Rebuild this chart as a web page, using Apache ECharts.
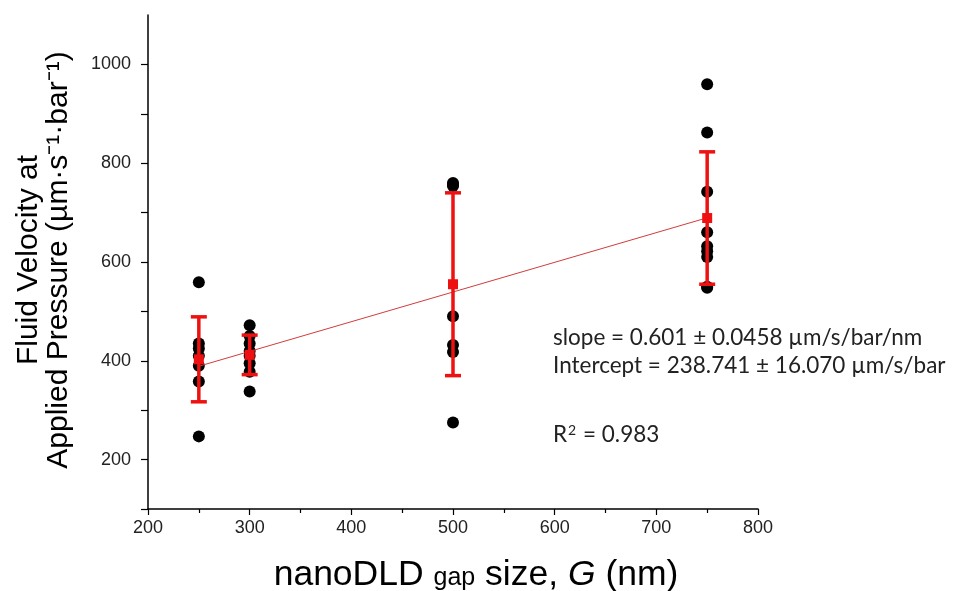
<!DOCTYPE html>
<html>
<head>
<meta charset="utf-8">
<script src="https://cdn.jsdelivr.net/npm/echarts@6/dist/echarts.min.js"></script>
<style>html,body{margin:0;padding:0;background:#fff}#c{width:967px;height:591px}</style>
</head>
<body>
<div id="c"></div>
<script>
const gaps = [250, 300, 500, 750];
const pts250 = [559, 435, 425, 410, 390, 358, 247];
const pts300 = [472, 450, 435, 420, 410, 395, 378, 338];
const pts500 = [760, 757, 754, 490, 432, 418, 275];
const pts750 = [960, 862, 742, 660, 632, 622, 610, 550, 548];
const means = [403, 412, 555, 689];
const sds = [86, 40, 185, 134];
const fitSlope = 0.601;
const fitIntercept = 238.741;
const fitRange = [250, 750];
const xTicks = [200, 300, 400, 500, 600, 700, 800];
const yTicks = [200, 400, 600, 800, 1000];

const groups = [pts250, pts300, pts500, pts750];
const scatterData = [];
groups.forEach((g, i) => g.forEach(v => scatterData.push([gaps[i], v])));
const meanData = gaps.map((g, i) => [g, means[i]]);
const errData = gaps.map((g, i) => [g, means[i] - sds[i], means[i] + sds[i]]);
const fitData = fitRange.map(x => [x, fitIntercept + fitSlope * x]);

const AR = 'Liberation Sans, Arial';
const chart = echarts.init(document.getElementById('c'));
chart.setOption({
  backgroundColor: '#fff',
  animation: false,
  grid: { left: 148, right: 209, top: 15, bottom: 82, containLabel: false },
  xAxis: {
    type: 'value', min: 200, max: 800, interval: 100,
    axisLine: { show: true, lineStyle: { color: '#000', width: 1.5 } },
    axisTick: { show: true, inside: false, length: 6, lineStyle: { color: '#000', width: 1.2 } },
    minorTick: { show: true, splitNumber: 2, length: 4, lineStyle: { color: '#000', width: 1.2 } },
    splitLine: { show: false },
    axisLabel: { color: '#222', fontFamily: AR, fontSize: 18, margin: 10,
      formatter: v => xTicks.includes(v) ? String(v) : '' }
  },
  yAxis: {
    type: 'value', min: 100, max: 1100, interval: 100,
    axisLine: { show: true, lineStyle: { color: '#000', width: 1.5 } },
    axisTick: { show: true, inside: false, length: 7, lineStyle: { color: '#000', width: 1.2 } },
    splitLine: { show: false },
    axisLabel: { color: '#222', fontFamily: AR, fontSize: 18, margin: 17,
      showMaxLabel: false,
      formatter: v => yTicks.includes(v) ? String(v) : '' }
  },
  series: [
    {
      type: 'line', data: fitData, symbol: 'none', z: 3,
      lineStyle: { color: '#d23c3c', width: 1 }
    },
    {
      type: 'scatter', data: scatterData, symbol: 'circle', symbolSize: 12, z: 2,
      itemStyle: { color: '#000', opacity: 1 }
    },
    {
      type: 'custom', data: errData, z: 4,
      renderItem: (params, api) => {
        const x = api.value(0);
        const lo = api.coord([x, api.value(1)]);
        const hi = api.coord([x, api.value(2)]);
        const cap = 8;
        const st = { stroke: '#ee1111', lineWidth: 3.5 };
        return { type: 'group', children: [
          { type: 'line', shape: { x1: lo[0], y1: lo[1], x2: hi[0], y2: hi[1] }, style: st },
          { type: 'line', shape: { x1: lo[0] - cap, y1: lo[1], x2: lo[0] + cap, y2: lo[1] }, style: st },
          { type: 'line', shape: { x1: hi[0] - cap, y1: hi[1], x2: hi[0] + cap, y2: hi[1] }, style: st }
        ]};
      }
    },
    {
      type: 'scatter', data: meanData, symbol: 'rect', symbolSize: 10, z: 5,
      itemStyle: { color: '#ee1111', opacity: 1 }
    }
  ],
  graphic: [
    {
      type: 'text', x: 553, y: 338,
      style: { text: 'slope = 0.601 ± 0.0458 µm/s/bar/nm', fontFamily: 'Lato', fontSize: 22.5,
        fill: '#222', verticalAlign: 'middle' }
    },
    {
      type: 'text', x: 553, y: 366,
      style: { text: 'Intercept = 238.741 ± 16.070 µm/s/bar', fontFamily: 'Lato', fontSize: 22.5,
        fill: '#222', verticalAlign: 'middle' }
    },
    {
      type: 'text', x: 553, y: 433,
      style: {
        text: '{r|R}{p|2}{r| = 0.983}',
        verticalAlign: 'middle',
        rich: {
          r: { fontFamily: 'Lato', fontSize: 22.5, fill: '#222', lineHeight: 26, verticalAlign: 'bottom' },
          p: { fontFamily: 'Lato', fontSize: 14, fill: '#222', lineHeight: 26, verticalAlign: 'bottom', padding: [0, 1, 9, 1] }
        }
      }
    },
    {
      type: 'text', x: 44, y: 260, rotation: Math.PI / 2,
      style: {
        text: 'Fluid Velocity at\nApplied Pressure (µm·s⁻¹·bar⁻¹)',
        fontFamily: AR, fontSize: 30, lineHeight: 30, fill: '#000',
        align: 'center', verticalAlign: 'middle'
      }
    },
    {
      type: 'text', x: 476, y: 574,
      style: {
        text: '{a|nanoDLD }{s|gap}{a| size, }{i|G}{a| (nm)}',
        align: 'center', verticalAlign: 'middle',
        rich: {
          a: { fontFamily: AR, fontSize: 35.5, fill: '#000', verticalAlign: 'bottom', lineHeight: 38 },
          s: { fontFamily: AR, fontSize: 25, fill: '#000', verticalAlign: 'bottom', lineHeight: 38, padding: [0, 0, 2, 0] },
          i: { fontFamily: AR, fontSize: 35.5, fontStyle: 'italic', fill: '#000', verticalAlign: 'bottom', lineHeight: 38 }
        }
      }
    }
  ]
});
</script>
</body>
</html>
